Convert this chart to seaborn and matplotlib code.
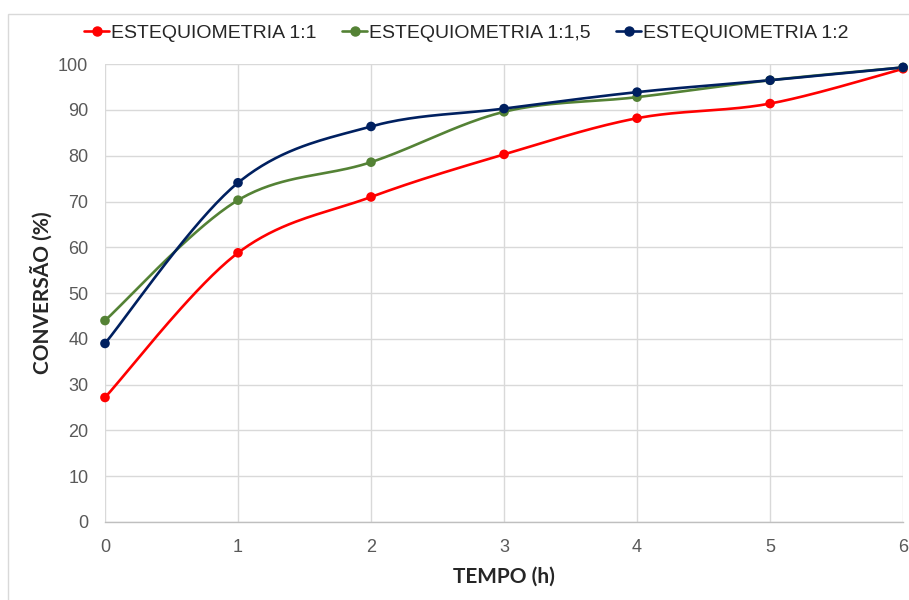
import numpy as np
import pandas as pd
import matplotlib
matplotlib.use("Agg")
import matplotlib.pyplot as plt
import seaborn as sns

# Reaction conversion over time for three stoichiometric ratios
tempo = [0, 1, 2, 3, 4, 5, 6]
conv_1_1 = [27.2, 58.8, 71.0, 80.3, 88.2, 91.4, 99.0]
conv_1_15 = [44.0, 70.3, 78.6, 89.6, 92.8, 96.5, 99.3]
conv_1_2 = [39.0, 74.1, 86.4, 90.3, 93.9, 96.5, 99.3]
series_names = ["ESTEQUIOMETRIA 1:1", "ESTEQUIOMETRIA 1:1,5", "ESTEQUIOMETRIA 1:2"]
series_vals = [conv_1_1, conv_1_15, conv_1_2]
colors = ["#ff0000", "#548235", "#002060"]
y_ticks = list(range(0, 101, 10))
x_ticks = tempo

sns.set_theme(style="white")
plt.rcParams["font.family"] = ["Liberation Sans", "DejaVu Sans"]
title_font = ["Lato", "DejaVu Sans"]


def smooth(x, y, n=40):
    """Catmull-Rom style smoothing through every point."""
    x = np.asarray(x, float)
    y = np.asarray(y, float)
    px = np.concatenate([[2 * x[0] - x[1]], x, [2 * x[-1] - x[-2]]])
    py = np.concatenate([[y[0]], y, [y[-1]]])
    xs, ys = [], []
    for i in range(1, len(px) - 2):
        p0, p1, p2, p3 = (np.array([px[j], py[j]]) for j in (i - 1, i, i + 1, i + 2))
        if i == 1:
            p0 = p1
        if i == len(px) - 3:
            p3 = p2
        c1 = p1 + (p2 - p0) / 6.0
        c2 = p2 - (p3 - p1) / 6.0
        t = np.linspace(0, 1, n)[:, None]
        b = (1 - t) ** 3 * p1 + 3 * (1 - t) ** 2 * t * c1 + 3 * (1 - t) * t ** 2 * c2 + t ** 3 * p2
        xs.append(b[:, 0])
        ys.append(b[:, 1])
    return np.concatenate(xs), np.concatenate(ys)


pts = pd.DataFrame({
    "tempo": np.tile(tempo, len(series_names)),
    "conv": np.concatenate(series_vals),
    "serie": np.repeat(series_names, len(tempo)),
})
curves = []
for name, vals in zip(series_names, series_vals):
    sx, sy = smooth(tempo, vals)
    curves.append(pd.DataFrame({"tempo": sx, "conv": sy, "serie": name}))
curves = pd.concat(curves, ignore_index=True)

palette = dict(zip(series_names, colors))

fig = plt.figure(figsize=(9.09, 6.0), dpi=100)
ax = fig.add_axes([0.1155, 0.13, 0.878, 0.763])

sns.lineplot(data=curves, x="tempo", y="conv", hue="serie", palette=palette,
             linewidth=1.9, ax=ax, legend=False, sort=False, estimator=None)
sns.scatterplot(data=pts, x="tempo", y="conv", hue="serie", palette=palette,
                s=48, edgecolor="none", ax=ax, legend=False, zorder=5, clip_on=False)

ax.set_xlim(0, 6)
ax.set_ylim(0, 100)
ax.set_xticks(x_ticks)
ax.set_yticks(y_ticks)
ax.grid(True, color="#d9d9d9", linewidth=1.0)
ax.set_axisbelow(True)
for side in ["top", "right", "left"]:
    ax.spines[side].set_visible(False)
ax.spines["bottom"].set_color("#bfbfbf")
ax.spines["bottom"].set_linewidth(1.0)
ax.tick_params(axis="both", length=0, labelsize=13, labelcolor="#595959", pad=12)

ax.set_xlabel("TEMPO (h)", fontsize=15, fontweight="bold", family=title_font, labelpad=8)
ax.set_ylabel("CONVERSÃO (%)", fontsize=15, fontweight="bold", family=title_font, labelpad=4)

handles = [plt.Line2D([0], [0], color=c, lw=1.9, marker="o", markersize=6.5) for c in colors]
fig.legend(handles, series_names, loc="center", bbox_to_anchor=(0.513, 0.945), ncol=3,
           frameon=False, handlelength=1.3, handletextpad=0.1, columnspacing=1.3,
           prop={"size": 14})

# thin frame around the chart area
fig.patches.append(plt.Rectangle((8 / 909, -0.01), 1.02, 0.99 - 2 / 600, transform=fig.transFigure,
                                 fill=False, edgecolor="#d9d9d9", linewidth=1.0))

fig.savefig("out.png", dpi=100)
